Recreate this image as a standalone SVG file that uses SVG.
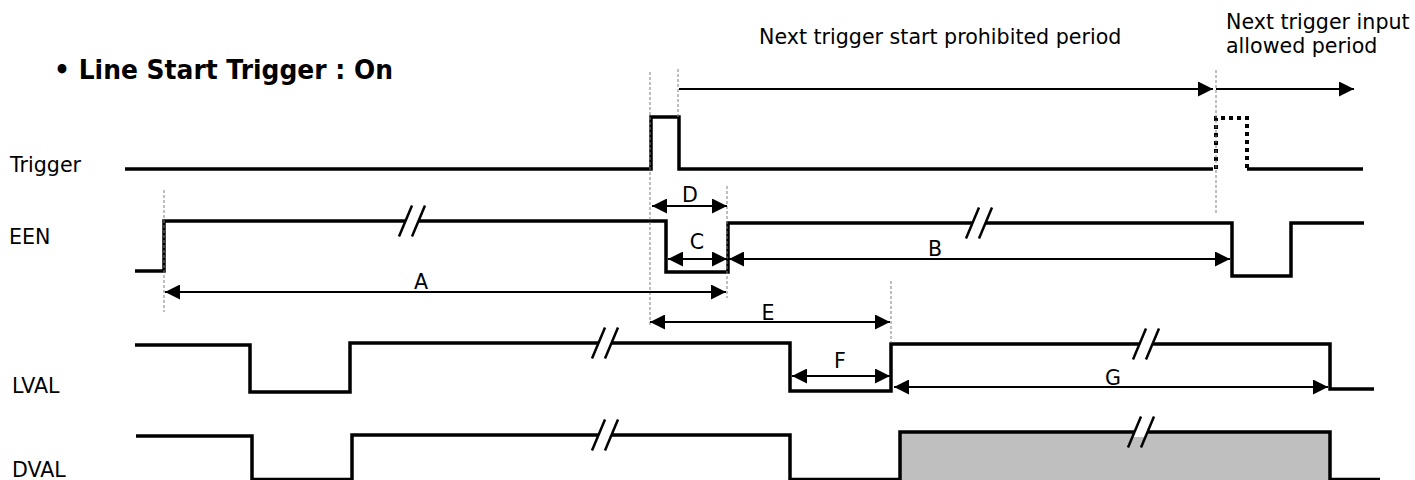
<svg xmlns="http://www.w3.org/2000/svg" width="1415" height="480" viewBox="0 0 1415 480">
<style>
.bg{fill:#ffffff}
.lbl{font-family:"DejaVu Sans",Verdana,sans-serif;font-size:20.6px;fill:#000}
.dim{font-family:"DejaVu Sans",Verdana,sans-serif;font-size:20.6px;fill:#000;text-anchor:middle}
.title{font-family:"DejaVu Sans",Verdana,sans-serif;font-size:26.5px;font-weight:bold;fill:#000}
.sig{fill:none;stroke:#000;stroke-width:3.5;stroke-linejoin:miter;stroke-linecap:butt}
.dot{fill:none;stroke:#000;stroke-width:4;stroke-dasharray:4 4}
.guide{fill:none;stroke:#7f7f7f;stroke-width:1;stroke-dasharray:3 2}
.arr{fill:none;stroke:#000;stroke-width:2.2}
.dimln{fill:none;stroke:#000;stroke-width:2}
.slash{stroke:#000;stroke-width:2.5;fill:none}
</style>
<defs>
<marker id="ah" viewBox="0 0 15 15" refX="15" refY="7.5" markerWidth="15" markerHeight="15" markerUnits="userSpaceOnUse" orient="auto-start-reverse">
<path d="M0,0 L15,7.5 L0,15 z" fill="#000"/>
</marker>
<g id="brk">
<polygon points="-8.6,5 -4.4,-5 8.6,-5 4.4,5" fill="#fff"/>
<line class="slash" x1="-13" y1="15.5" x2="0" y2="-15.5"/>
<line class="slash" x1="0" y1="15.5" x2="13" y2="-15.5"/>
</g>
</defs>
<rect class="bg" x="0" y="0" width="1415" height="480"/>

<g id="title">
<text class="title" x="54" y="79" textLength="339" lengthAdjust="spacingAndGlyphs">• Line Start Trigger : On</text>
</g>

<g id="period-labels">
<text class="lbl" x="759" y="44">Next trigger start prohibited period</text>
<text class="lbl" x="1226" y="29">Next trigger input</text>
<text class="lbl" x="1226" y="53">allowed period</text>
</g>

<g id="trigger">
<text class="lbl" x="10" y="172">Trigger</text>
<path class="sig" d="M125,169 H651 V117 H679 V169 H1213"/>
<path class="dot" d="M1216,169 V118 H1247 V169"/>
<path class="sig" d="M1247,169 H1363"/>
</g>

<g id="een">
<text class="lbl" x="9" y="244">EEN</text>
<path class="sig" d="M135,271 H164 V221 H666 V272 H728 V223 H1232 V276 H1291 V223 H1364"/>
<use href="#brk" x="412" y="221"/>
<use href="#brk" x="979" y="223"/>
</g>

<g id="lval">
<text class="lbl" x="12" y="393">LVAL</text>
<path class="sig" d="M135,345 H250 V392 H350 V343 H790 V391 H891 V344 H1330 V389 H1374"/>
<use href="#brk" x="605" y="343"/>
<use href="#brk" x="1146" y="344"/>
</g>

<g id="dval">
<text class="lbl" x="12" y="477">DVAL</text>
<rect x="900" y="432" width="430" height="48" fill="#bfbfbf"/>
<path class="sig" d="M136,436 H252 V479.5 H352 V435 H790 V479.5 H900 V432 H1330 V479.5 H1380"/>
<use href="#brk" x="605" y="435"/>
<use href="#brk" x="1141" y="432"/>
</g>

<g id="connectors">
<line class="guide" x1="164" y1="190" x2="164" y2="312"/>
<line class="guide" x1="650" y1="72" x2="650" y2="327"/>
<line class="guide" x1="678" y1="69" x2="678" y2="117"/>
<line class="guide" x1="727" y1="186" x2="727" y2="298"/>
<line class="guide" x1="891" y1="281" x2="891" y2="343"/>
<line class="guide" x1="1216" y1="70" x2="1216" y2="215"/>

<line class="arr" x1="679" y1="89" x2="1213" y2="89" marker-end="url(#ah)"/>
<line class="arr" x1="1216" y1="89" x2="1354" y2="89" marker-end="url(#ah)"/>

<line class="dimln" x1="652" y1="206" x2="727" y2="206" marker-start="url(#ah)" marker-end="url(#ah)"/>
<line class="dimln" x1="668" y1="259" x2="727" y2="259" marker-start="url(#ah)" marker-end="url(#ah)"/>
<line class="dimln" x1="729" y1="259" x2="1230" y2="259" marker-start="url(#ah)" marker-end="url(#ah)"/>
<line class="dimln" x1="165" y1="292" x2="726" y2="292" marker-start="url(#ah)" marker-end="url(#ah)"/>
<line class="dimln" x1="650" y1="322" x2="890" y2="322" marker-start="url(#ah)" marker-end="url(#ah)"/>
<line class="dimln" x1="792" y1="376" x2="890" y2="376" marker-start="url(#ah)" marker-end="url(#ah)"/>
<line class="dimln" x1="894" y1="387" x2="1328" y2="387" marker-start="url(#ah)" marker-end="url(#ah)"/>

<text class="dim" x="690" y="202">D</text>
<text class="dim" x="697" y="249">C</text>
<text class="dim" x="935" y="256">B</text>
<text class="dim" x="421" y="289">A</text>
<text class="dim" x="768" y="320">E</text>
<text class="dim" x="840" y="368">F</text>
<text class="dim" x="1113" y="385">G</text>
</g>
</svg>
